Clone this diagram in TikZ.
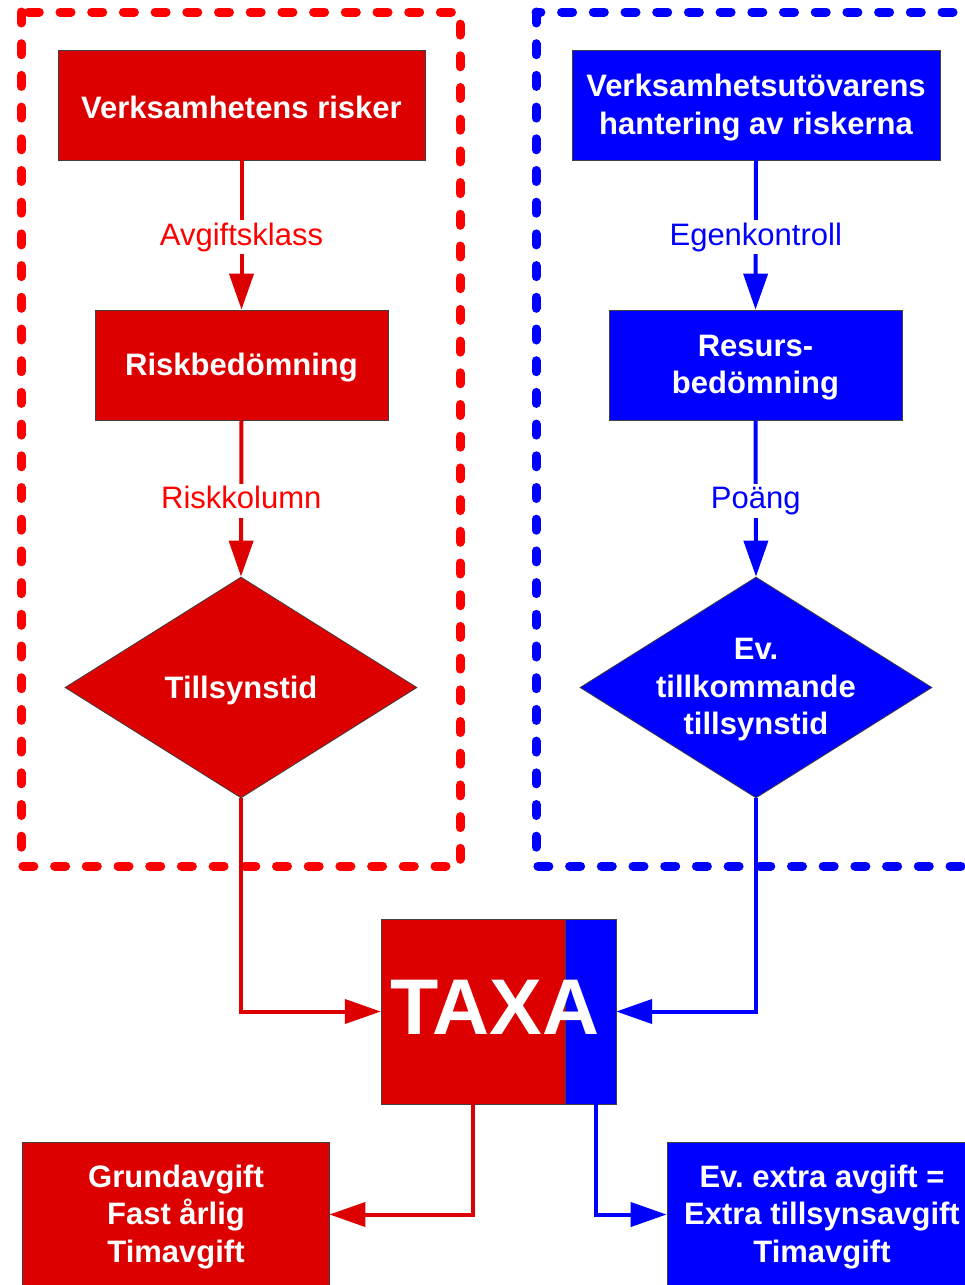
\documentclass[tikz,border=0pt]{standalone}
\usepackage{fontspec}
\setmainfont{Liberation Sans}
\usetikzlibrary{arrows.meta,shapes.geometric}
\definecolor{rfill}{HTML}{DD0000}
\definecolor{bfill}{HTML}{0000FF}
\definecolor{rtext}{HTML}{FF0000}
\definecolor{btext}{HTML}{0000FF}
\frenchspacing
\begin{document}
\begin{tikzpicture}[x=1pt,y=-1pt,
  box/.style={draw=black!75, line width=0.8pt, inner sep=0pt},
  btxt/.style={text=white, font=\fontsize{31}{37.5}\selectfont\bfseries,
    align=center, inner sep=0pt, yshift=-2.5pt},
  dia/.style={shape=diamond, draw=black!75, line width=0.8pt, inner sep=0pt,
    minimum width=352pt, minimum height=221pt},
  lbl/.style={fill=white, font=\fontsize{31}{37}\selectfont, inner sep=2pt,
    text height=23pt, text depth=7pt, yshift=-2pt},
  rline/.style={draw=rfill, line width=4pt, -{Triangle[length=36pt,width=24pt]}},
  bline/.style={draw=bfill, line width=4pt, -{Triangle[length=36pt,width=24pt]}},
  frame/.style={line width=9pt, line cap=round, dash pattern=on 11pt off 20.7pt}
]
\useasboundingbox (0,0) rectangle (965,1285);
\clip (0,0) rectangle (965,1285);

% dashed frames
\draw[frame, draw=rtext] (21,12) rectangle (460,866);
\draw[frame, draw=btext] (536,12) rectangle (1000,866);

% red column
\node[box, fill=rfill, minimum width=367pt, minimum height=110pt] (r1) at (241.5,105) {};
\node[btxt] (r1t) at (r1.center) {Verksamhetens risker};
\node[box, fill=rfill, minimum width=293pt, minimum height=110pt] (r2) at (241.5,365) {};
\node[btxt] (r2t) at (r2.center) {Riskbedömning};
\node[dia, fill=rfill] (rd) at (241,687.5) {};
\node[btxt] (rdt) at (rd.center) {Tillsynstid};

% blue column
\node[box, fill=bfill, minimum width=368pt, minimum height=110pt] (b1) at (756,105) {};
\node[btxt] (b1t) at (b1.center) {Verksamhetsutövarens\\hantering av riskerna};
\node[box, fill=bfill, minimum width=293pt, minimum height=110pt] (b2) at (755.5,365) {};
\node[btxt] (b2t) at (b2.center) {Resurs-\\bedömning};
\node[dia, fill=bfill] (bd) at (756,687.5) {};
\node[btxt] (bdt) at (bd.center) {Ev.\\tillkommande\\tillsynstid};

% TAXA
\node[box, fill=bfill, minimum width=118pt, minimum height=185pt] (tb) at (557,1011.5) {};
\node[box, fill=rfill, minimum width=184pt, minimum height=185pt] (tr) at (473,1011.5) {};
\node[inner sep=0pt, minimum width=235pt, minimum height=185pt] (taxa) at (498.5,1011.5) {};
\node[text=white, font=\fontsize{79}{79}\selectfont\bfseries, inner sep=0pt] (taxatext) at (495,1007.5) {TAXA};

% bottom boxes
\node[box, fill=rfill, minimum width=307pt, minimum height=145pt] (rb) at (175.5,1214.5) {};
\node[btxt] (rbt) at (176,1214.5) {Grundavgift\\Fast årlig\\Timavgift};
\node[box, fill=bfill, minimum width=313pt, minimum height=145pt] (bb) at (823.5,1214.5) {};
\node[btxt] (bbt) at (822,1214.5) {Ev. extra avgift =\\Extra tillsynsavgift\\Timavgift};

% connectors
\draw[rline] (r1.south) -- node[lbl, text=rtext] (l1) {Avgiftsklass} (r2.north);
\draw[rline] (r2.south) -- node[lbl, text=rtext] (l2) {Riskkolumn} (rd.north);
\draw[bline] (b1.south) -- node[lbl, text=btext] (l3) {Egenkontroll} (b2.north);
\draw[bline] (b2.south) -- node[lbl, text=btext] (l4) {Poäng} (bd.north);
\draw[rline] (rd.south) |- (taxa.west);
\draw[bline] (bd.south) |- (taxa.east);
\draw[rline] ([xshift=-25.5pt]taxa.south) |- (rb.east);
\draw[bline] ([xshift=97.5pt]taxa.south) |- (bb.west);
\end{tikzpicture}
\end{document}
